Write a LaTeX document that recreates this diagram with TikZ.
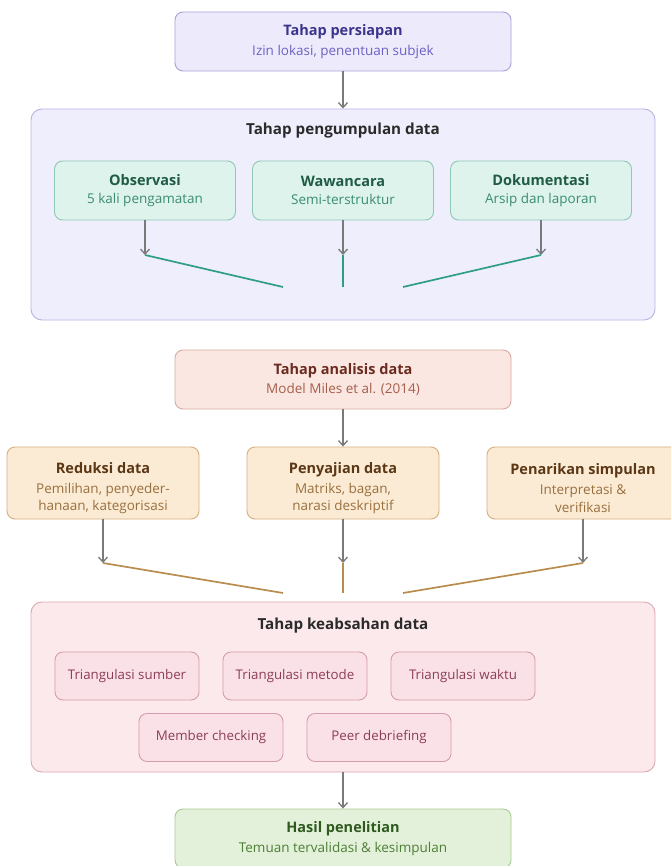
\documentclass[tikz,border=0pt]{standalone}
\usepackage{fontspec}
\setmainfont{Open Sans}
\usetikzlibrary{arrows.meta}
\definecolor{prepfill}{HTML}{EDEBFB}
\definecolor{prepborder}{HTML}{A7A0D9}
\definecolor{preptitle}{HTML}{3B348C}
\definecolor{prepsub}{HTML}{6C62C4}
\definecolor{collfill}{HTML}{EFEEFC}
\definecolor{collborder}{HTML}{B9B3E3}
\definecolor{darktitle}{HTML}{2A2A2A}
\definecolor{greenfill}{HTML}{DDF3EB}
\definecolor{greenborder}{HTML}{8FC8B4}
\definecolor{greentitle}{HTML}{1F5B45}
\definecolor{greensub}{HTML}{3C8D70}
\definecolor{tealline}{HTML}{2F9E84}
\definecolor{anafill}{HTML}{FBE7E2}
\definecolor{anaborder}{HTML}{D9AA9E}
\definecolor{anatitle}{HTML}{6B2B1F}
\definecolor{anasub}{HTML}{A65E4C}
\definecolor{orfill}{HTML}{FBEBD4}
\definecolor{orborder}{HTML}{D6AF7E}
\definecolor{ortitle}{HTML}{5B3716}
\definecolor{orsub}{HTML}{99703F}
\definecolor{brownline}{HTML}{B88C4E}
\definecolor{valfill}{HTML}{FCE9EC}
\definecolor{valborder}{HTML}{DCA8B2}
\definecolor{pinkfill}{HTML}{FAE1E8}
\definecolor{pinkborder}{HTML}{D59CAC}
\definecolor{pinktext}{HTML}{8C3D57}
\definecolor{finfill}{HTML}{E4F1DA}
\definecolor{finborder}{HTML}{A8CB93}
\definecolor{fintitle}{HTML}{2E5A1F}
\definecolor{finsub}{HTML}{4E7F37}
\definecolor{arrgray}{HTML}{7A7A7A}
\newcommand{\ttl}[2]{{\fontsize{14.5}{17.5}\selectfont\bfseries\color{#1}#2}}
\newcommand{\sbt}[2]{{\color{#1}#2}}
\begin{document}
\begin{tikzpicture}[x=1pt,y=-1pt,
  base/.style={rounded corners=8pt, line width=0.9pt, align=center, inner sep=0pt,
    font=\fontsize{13.5}{17.5}\selectfont},
  prepbox/.style={base, draw=prepborder, fill=prepfill, minimum width=336pt, minimum height=59pt},
  bigbox/.style={base, rounded corners=11pt},
  greenbox/.style={base, draw=greenborder, fill=greenfill, minimum width=181pt, minimum height=59pt},
  anabox/.style={base, draw=anaborder, fill=anafill, minimum width=336pt, minimum height=59pt},
  orbox/.style={base, draw=orborder, fill=orfill, minimum width=192pt, minimum height=72pt},
  pinkbox/.style={base, draw=pinkborder, fill=pinkfill, minimum width=144pt, minimum height=48pt, text=pinktext, font=\fontsize{13.3}{17}\selectfont},
  finbox/.style={base, draw=finborder, fill=finfill, minimum width=336pt, minimum height=59pt},
  sectitle/.style={font=\fontsize{15.2}{18}\selectfont\bfseries, text=darktitle, inner sep=0pt},
  arr/.style={draw=arrgray, line width=1.5pt, -{Straight Barb[length=5pt,width=9pt,line width=1.3pt]}},
  tealseg/.style={draw=tealline, line width=1.7pt},
  brownseg/.style={draw=brownline, line width=1.7pt}
]
\useasboundingbox (0,0) rectangle (671,866);
\clip (0,0) rectangle (671,866);
\fill[white] (0,0) rectangle (671,866);

% preparation
\node[prepbox] (prep) at (343,41.5) {\ttl{preptitle}{Tahap persiapan}\\[2.5pt]\sbt{prepsub}{Izin lokasi, penentuan subjek}};

% collection
\node[bigbox, draw=collborder, fill=collfill, minimum width=624pt, minimum height=211pt] (coll) at (343,214.5) {};
\node[sectitle] (colltitle) at (343,131) {Tahap pengumpulan data};
\node[greenbox] (obs) at (145,190.5) {\ttl{greentitle}{Observasi}\\[1pt]\sbt{greensub}{5 kali pengamatan}};
\node[greenbox] (waw) at (343,190.5) {\ttl{greentitle}{Wawancara}\\[1pt]\sbt{greensub}{Semi-terstruktur}};
\node[greenbox] (dok) at (541,190.5) {\ttl{greentitle}{Dokumentasi}\\[1pt]\sbt{greensub}{Arsip dan laporan}};
\coordinate (gj1) at (145,255);
\coordinate (gj2) at (343,255);
\coordinate (gj3) at (541,255);
\coordinate (ge1) at (283,287);
\coordinate (ge2) at (343,287);
\coordinate (ge3) at (403,287);

\draw[arr] (prep.south) -- (coll.north);
\draw[arr] (obs.south) -- (gj1);
\draw[arr] (waw.south) -- (gj2);
\draw[arr] (dok.south) -- (gj3);
\draw[tealseg] (gj1) -- (ge1);
\draw[tealseg] (gj2) -- (ge2);
\draw[tealseg] (gj3) -- (ge3);

% analysis
\node[anabox] (ana) at (343,379.5) {\ttl{anatitle}{Tahap analisis data}\\[1pt]\sbt{anasub}{Model Miles et al. (2014)}};
\node[orbox] (red) at (103,483) {\ttl{ortitle}{\rule{0pt}{21pt}Reduksi data}\\[2.5pt]\sbt{orsub}{Pemilihan, penyeder-}\\\sbt{orsub}{hanaan, kategorisasi}};
\node[orbox] (pen) at (343,483) {\ttl{ortitle}{\rule{0pt}{21pt}Penyajian data}\\[2.5pt]\sbt{orsub}{Matriks, bagan,}\\\sbt{orsub}{narasi deskriptif}};
\node[orbox] (tar) at (583,483) {\ttl{ortitle}{\rule{0pt}{21pt}Penarikan simpulan}\\[2.5pt]\sbt{orsub}{Interpretasi \&}\\\sbt{orsub}{verifikasi}};
\coordinate (oj1) at (103,563);
\coordinate (oj2) at (343,563);
\coordinate (oj3) at (583,563);
\coordinate (oe1) at (283,593);
\coordinate (oe2) at (343,593);
\coordinate (oe3) at (403,593);

\draw[arr] (ana.south) -- (pen.north);
\draw[arr] (red.south) -- (oj1);
\draw[arr] (pen.south) -- (oj2);
\draw[arr] (tar.south) -- (oj3);
\draw[brownseg] (oj1) -- (oe1);
\draw[brownseg] (oj2) -- (oe2);
\draw[brownseg] (oj3) -- (oe3);

% validity
\node[bigbox, draw=valborder, fill=valfill, minimum width=624pt, minimum height=170pt] (val) at (343,687) {};
\node[sectitle] (valtitle) at (343,626) {Tahap keabsahan data};
\node[pinkbox] (ts) at (127,676) {Triangulasi sumber};
\node[pinkbox] (tm) at (295,676) {Triangulasi metode};
\node[pinkbox] (tw) at (463,676) {Triangulasi waktu};
\node[pinkbox] (mc) at (211,737.5) {Member checking};
\node[pinkbox] (pd) at (379,737.5) {Peer debriefing};

% result
\node[finbox] (fin) at (343,838.5) {\ttl{fintitle}{Hasil penelitian}\\[2.5pt]\sbt{finsub}{Temuan tervalidasi \& kesimpulan}};
\draw[arr] (val.south) -- (fin.north);
\end{tikzpicture}
\end{document}
